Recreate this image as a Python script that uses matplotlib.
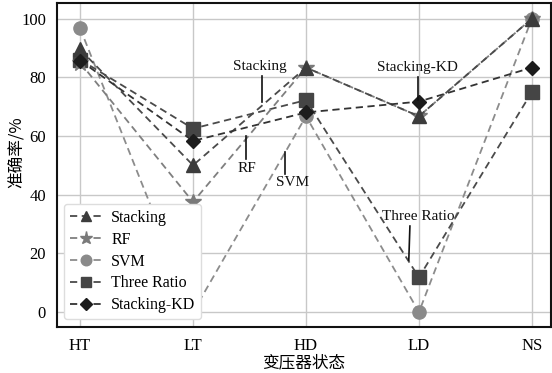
import matplotlib
matplotlib.use("Agg")
import matplotlib.pyplot as plt

categories = ["HT", "LT", "HD", "LD", "NS"]
stacking = [89.5, 50.0, 83.3, 66.7, 100.0]
rf = [85.0, 37.5, 83.3, 66.7, 100.0]
svm = [96.7, 0.0, 66.7, 0.0, 100.0]
three_ratio = [86.0, 62.5, 72.2, 11.8, 75.0]
stacking_kd = [85.7, 58.3, 68.0, 71.7, 83.3]

plt.rcParams['font.family'] = ['Liberation Serif', 'Noto Sans CJK SC']

fig = plt.figure(figsize=(5.52, 3.73), dpi=100)
ax = fig.add_axes([0.1033, 0.1233, 0.8947, 0.8687])

x = list(range(len(categories)))
series = [
    ("Stacking", stacking, "^", "#3c3c3c", "#4a4a4a", 5),
    ("RF", rf, "*", "#7a7a7a", "#7f7f7f", 11),
    ("SVM", svm, "o", "#8a8a8a", "#8c8c8c", 2),
    ("Three Ratio", three_ratio, "s", "#454545", "#4a4a4a", 3),
    ("Stacking-KD", stacking_kd, "D", "#1c1c1c", "#333333", 6),
]
handles = {}
for name, vals, mk, mc, lc, z in series:
    ms = 12 if mk == "*" else (7.5 if mk == "D" else 9.5)
    h, = ax.plot(x, vals, linestyle=(0, (4, 2.5)), color=lc, lw=1.3,
                 marker=mk, markersize=ms, markerfacecolor=mc,
                 markeredgecolor=mc, label=name, zorder=z if name != "RF" else 4)
    handles[name] = h

ax.set_xlim(-0.204, 4.168)
ax.set_ylim(-5.1, 105.3)
ax.set_xticks(x)
ax.set_xticklabels(categories)
ax.set_yticks([0, 20, 40, 60, 80, 100])
ax.tick_params(axis='both', labelsize=12, length=0, pad=8)
ax.grid(True, color="#c8c8c8", lw=1.0, zorder=0)
ax.set_axisbelow(True)
for s in ax.spines.values():
    s.set_linewidth(1.5)
    s.set_color("#111111")

ax.set_xlabel("变压器状态", fontsize=12, family=['Noto Sans CJK SC'], labelpad=0)
ax.set_ylabel("准确率/%", fontsize=12, family=['Noto Sans CJK SC', 'Liberation Serif'],
              va='center', ha='center')
ax.yaxis.set_label_coords(-0.081, 0.54)

# annotations
ann_kw = dict(fontsize=11, ha='center', va='center', color="#111111")
ax.text(1.59, 83.5, "Stacking", **ann_kw)
ax.plot([1.61, 1.61], [80.5, 71.6], color="#111111", lw=1.2, zorder=7)
ax.text(1.48, 49.0, "RF", **ann_kw)
ax.plot([1.47, 1.47], [60.0, 52.0], color="#111111", lw=1.2, zorder=7)
ax.text(1.88, 44.0, "SVM", **ann_kw)
ax.plot([1.81, 1.81], [54.6, 47.0], color="#111111", lw=1.2, zorder=7)
ax.text(2.99, 83.2, "Stacking-KD", **ann_kw)
ax.plot([2.99, 2.99], [80.1, 72.3], color="#111111", lw=1.2, zorder=7)
ax.text(2.99, 32.4, "Three Ratio", **ann_kw)
ax.plot([2.92, 2.91], [29.3, 17.7], color="#111111", lw=1.2, zorder=7)

order = ["Stacking", "RF", "SVM", "Three Ratio", "Stacking-KD"]
leg = ax.legend([handles[n] for n in order], order, loc='lower left',
                bbox_to_anchor=(0.008, 0.015), fontsize=11.5, frameon=True,
                fancybox=True, framealpha=1.0, edgecolor="#dddddd",
                handlelength=2.0, handletextpad=0.6, labelspacing=0.37,
                borderpad=0.35, borderaxespad=0.2, markerscale=0.8)
leg.set_zorder(10)

fig.savefig("out.png", dpi=100)
